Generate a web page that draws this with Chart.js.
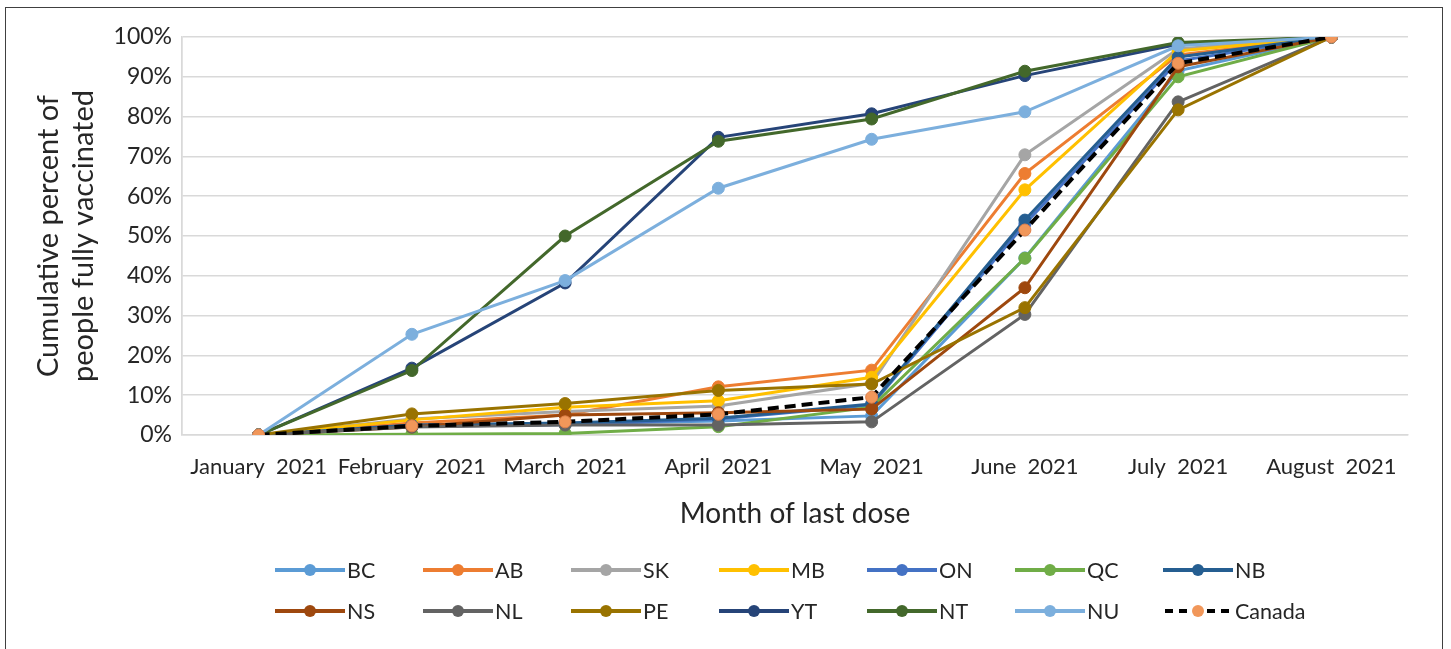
<!DOCTYPE html>
<html>
<head>
<meta charset="utf-8">
<script src="https://cdn.jsdelivr.net/npm/chart.js@4"></script>
<style>
    body { margin: 0; background: #fff; }
    #wrap { position: relative; width: 1451px; height: 649px; overflow: hidden; }
    #frame { position: absolute; left: 5px; top: 7px; width: 1436px; height: 700px; border: 1.5px solid #404040; }
    #miGrafico { position: absolute; left: 0; top: 0; }
    .item { position: absolute; height: 20px; display: flex; align-items: center; font-family: Lato, "Open Sans", sans-serif; font-size: 21.5px; color: #262626; }
    .item svg { margin-right: 2px; }
</style>
</head>
<body>
<div id="wrap">
    <div id="frame"></div>
    <canvas id="miGrafico" width="1451" height="649"></canvas>
    <div id="leyenda"></div>
</div>
<script>
const meses = ['January  2021', 'February  2021', 'March  2021', 'April  2021', 'May  2021', 'June  2021', 'July  2021', 'August  2021'];
const regiones = ['BC', 'AB', 'SK', 'MB', 'ON', 'QC', 'NB', 'NS', 'NL', 'PE', 'YT', 'NT', 'NU', 'Canada'];
const colores = ['#5B9BD5', '#ED7D31', '#A5A5A5', '#FFC000', '#4472C4', '#70AD47', '#255E91',
    '#9E480E', '#636363', '#997300', '#264478', '#43682B', '#7CAFDD', '#000000'];

const BC = [0, 2.5, 2.8, 3.5, 4.8, 44.5, 91.5, 100];
const AB = [0, 3.0, 5.0, 12.1, 16.3, 65.7, 95.5, 100];
const SK = [0, 4.0, 5.9, 7.3, 13.0, 70.4, 97.0, 100];
const MB = [0, 3.8, 7.0, 8.6, 14.5, 61.6, 96.5, 100];
const ON = [0, 2.2, 2.6, 4.0, 7.5, 53.0, 94.0, 100];
const QC = [0, 0.2, 0.4, 2.1, 7.0, 44.4, 90.0, 100];
const NB = [0, 2.5, 3.0, 4.2, 7.8, 54.0, 95.0, 100];
const NS = [0, 2.0, 5.0, 5.6, 6.5, 37.0, 92.5, 100];
const NL = [0, 2.0, 2.5, 2.5, 3.3, 30.3, 83.7, 100];
const PE = [0, 5.3, 7.9, 11.2, 12.8, 32.0, 81.7, 100];
const YT = [0, 16.8, 38.2, 74.8, 80.7, 90.3, 98.2, 100];
const NT = [0, 16.2, 50.0, 73.8, 79.4, 91.4, 98.6, 100];
const NU = [0, 25.3, 38.8, 62.0, 74.3, 81.2, 97.8, 100];
const Canada = [0, 2.3, 3.3, 5.2, 9.5, 51.5, 93.4, 100];

const series = [BC, AB, SK, MB, ON, QC, NB, NS, NL, PE, YT, NT, NU, Canada];
const marcadorCanada = '#F1975A';
const fuente = 'Lato, "Open Sans", sans-serif';
const texto = '#262626';

const datasets = regiones.map(function (r, i) {
    const esCanada = r === 'Canada';
    return {
        label: r,
        data: series[i],
        borderColor: colores[i],
        backgroundColor: esCanada ? marcadorCanada : colores[i],
        pointBorderColor: esCanada ? '#E0804A' : colores[i],
        borderWidth: esCanada ? 4 : 3,
        borderDash: esCanada ? [11, 6] : [],
        pointRadius: 6,
        pointBorderWidth: 1,
        pointHoverRadius: 6,
        tension: 0,
        order: regiones.length - i
    };
});

const ctx = document.getElementById('miGrafico').getContext('2d');
new Chart(ctx, {
    type: 'line',
    data: { labels: meses, datasets: datasets },
    options: {
        responsive: false,
        animation: false,
        layout: { padding: { top: 37, right: 43, left: 0, bottom: 0 } },
        plugins: {
            legend: { display: false },
            tooltip: { enabled: false }
        },
        scales: {
            x: {
                offset: true,
                afterFit: function (scale) { scale.height = 214; },
                grid: {
                    offset: true,
                    drawTicks: false,
                    lineWidth: 1.5,
                    color: function (c) { return (c.index === 0 || c.index === meses.length) ? '#D9D9D9' : 'rgba(0,0,0,0)'; }
                },
                border: { display: true, color: '#D9D9D9', width: 1.5 },
                ticks: {
                    autoSkip: false,
                    maxRotation: 0,
                    padding: 19,
                    color: texto,
                    font: { family: fuente, size: 22 }
                },
                title: {
                    display: true,
                    text: 'Month of last dose',
                    color: texto,
                    font: { family: fuente, size: 28 },
                    padding: { top: 0, bottom: 118 }
                }
            },
            y: {
                min: 0,
                max: 100,
                afterFit: function (scale) { scale.width = 182; },
                grid: { color: '#D9D9D9', lineWidth: 1.5, drawTicks: false },
                border: { display: true, color: '#D9D9D9', width: 1.5 },
                ticks: {
                    stepSize: 10,
                    padding: 10,
                    color: texto,
                    font: { family: fuente, size: 23 },
                    callback: function (v) { return v + '%'; }
                },
                title: {
                    display: true,
                    text: ['Cumulative percent of', 'people fully vaccinated'],
                    color: texto,
                    font: { family: fuente, size: 29, lineHeight: 1.2 },
                    padding: { top: 31, bottom: 0 }
                }
            }
        }
    }
});

// leyenda en dos filas de siete
const leyenda = document.getElementById('leyenda');
regiones.forEach(function (r, i) {
    const fila = Math.floor(i / 7);
    const col = i % 7;
    const esCanada = r === 'Canada';
    const linea = esCanada
        ? '<line x1="2" y1="10" x2="68" y2="10" stroke="#000" stroke-width="4" stroke-dasharray="8,6"/>'
        : '<line x1="0" y1="10" x2="70" y2="10" stroke="' + colores[i] + '" stroke-width="4"/>';
    const punto = '<circle cx="35" cy="10" r="6" fill="' + (esCanada ? marcadorCanada : colores[i]) + '"/>';
    const div = document.createElement('div');
    div.className = 'item';
    div.style.left = (275 + col * 148) + 'px';
    div.style.top = (560 + fila * 41) + 'px';
    div.innerHTML = '<svg width="70" height="20">' + linea + punto + '</svg>' + r;
    leyenda.appendChild(div);
});
</script>
</body>
</html>
